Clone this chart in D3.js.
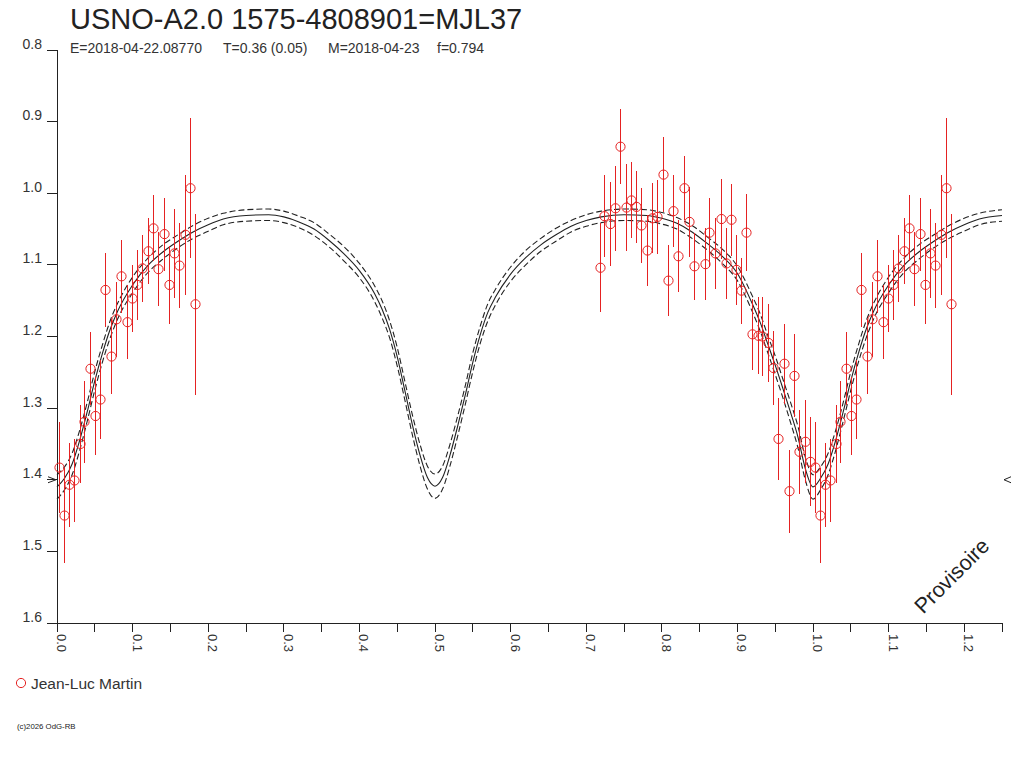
<!DOCTYPE html>
<html lang="fr">
<head>
  <meta charset="UTF-8">
  <script src="https://d3js.org/d3.v7.min.js"></script>
  <style>
    body { margin: 0; background: #fff; font-family: "Liberation Sans", Arial, sans-serif; }
    svg { display: block; }
    .axis-line { stroke: #222; stroke-width: 1; shape-rendering: crispEdges; }
    .tick-label { fill: #333; }
    .model { fill: none; stroke: #222; stroke-width: 1.1; }
    .obs { fill: none; stroke: #e52222; stroke-width: 1; }
    .err { stroke: #e52222; stroke-width: 1; shape-rendering: crispEdges; }
  </style>
</head>
<body>
<div id="chart"></div>
<script>
  // texts
  const title = "USNO-A2.0 1575-4808901=MJL37";
  const subtitle = ["E=2018-04-22.08770", "T=0.36 (0.05)", "M=2018-04-23", "f=0.794"];
  const observer = "Jean-Luc Martin";
  const copyright = "(c)2026 OdG-RB";

  // axes
  const xTicks = [0.0, 0.1, 0.2, 0.3, 0.4, 0.5, 0.6, 0.7, 0.8, 0.9, 1.0, 1.1, 1.2];
  const yTicks = [0.8, 0.9, 1.0, 1.1, 1.2, 1.3, 1.4, 1.5, 1.6];
  const meanLevel = 1.4;

  // observations (phase, magnitude, error)
  const obsPhase = [0.002, 0.009, 0.016, 0.023, 0.030, 0.036, 0.043, 0.050, 0.057, 0.064, 0.071, 0.078, 0.085, 0.092,
    0.099, 0.106, 0.113, 0.120, 0.127, 0.134, 0.141, 0.148, 0.155, 0.162, 0.169, 0.176, 0.183,
    0.718, 0.724, 0.732, 0.738, 0.745, 0.752, 0.759, 0.766, 0.773, 0.780, 0.787, 0.794, 0.801, 0.808, 0.815,
    0.822, 0.829, 0.836, 0.843, 0.857, 0.863, 0.871, 0.878, 0.885, 0.891, 0.898, 0.905, 0.912, 0.919, 0.927,
    0.933, 0.940, 0.947, 0.954, 0.961, 0.968, 0.975, 0.982, 0.989, 0.996];
  const obsMag = [1.383, 1.450, 1.407, 1.401, 1.350, 1.319, 1.245, 1.311, 1.288, 1.135, 1.228, 1.176, 1.116, 1.180,
    1.147, 1.128, 1.105, 1.081, 1.049, 1.106, 1.057, 1.128, 1.084, 1.101, 1.058, 0.993, 1.155,
    1.104, 1.032, 1.043, 1.021, 0.935, 1.020, 1.010, 1.019, 1.045, 1.080, 1.035, 1.033, 0.974, 1.122, 1.025,
    1.088, 0.993, 1.040, 1.102, 1.099, 1.055, 1.084, 1.036, 1.098, 1.037, 1.107, 1.136, 1.055, 1.197, 1.199,
    1.200, 1.209, 1.244, 1.343, 1.238, 1.416, 1.255, 1.361, 1.347, 1.375];
  const obsErr = [0.063, 0.066, 0.059, 0.058, 0.054, 0.057, 0.051, 0.055, 0.055, 0.052, 0.052, 0.052, 0.051, 0.052,
    0.047, 0.049, 0.047, 0.046, 0.046, 0.052, 0.051, 0.054, 0.062, 0.059, 0.084, 0.098, 0.126,
    0.062, 0.057, 0.059, 0.059, 0.052, 0.061, 0.053, 0.050, 0.052, 0.050, 0.049, 0.052, 0.052, 0.050, 0.050,
    0.050, 0.045, 0.049, 0.047, 0.050, 0.048, 0.049, 0.056, 0.050, 0.050, 0.049, 0.046, 0.054, 0.050, 0.054,
    0.055, 0.054, 0.052, 0.057, 0.056, 0.058, 0.058, 0.059, 0.058, 0.062];

  // fitted light curve over one cycle, with its uncertainty band
  const modelPhase = [0.00, 0.01, 0.02, 0.03, 0.04, 0.05, 0.06, 0.07, 0.08, 0.10, 0.12, 0.14, 0.16, 0.18, 0.20, 0.22,
    0.25, 0.28, 0.30, 0.32, 0.34, 0.36, 0.38, 0.40, 0.42, 0.43, 0.44, 0.45, 0.46, 0.47, 0.48, 0.49, 0.50,
    0.51, 0.52, 0.53, 0.54, 0.55, 0.56, 0.57, 0.58, 0.60, 0.62, 0.64, 0.66, 0.68, 0.70, 0.72, 0.75, 0.78,
    0.80, 0.82, 0.84, 0.86, 0.88, 0.90, 0.92, 0.93, 0.94, 0.95, 0.96, 0.97, 0.98, 0.99, 1.00];
  const modelMag = [1.410, 1.398, 1.378, 1.345, 1.305, 1.262, 1.224, 1.191, 1.165, 1.128, 1.101, 1.082, 1.067, 1.054, 1.044, 1.036,
    1.031, 1.030, 1.033, 1.040, 1.050, 1.066, 1.085, 1.108, 1.140, 1.162, 1.190, 1.228, 1.275, 1.323, 1.365, 1.397, 1.409,
    1.397, 1.365, 1.325, 1.282, 1.236, 1.197, 1.166, 1.145, 1.113, 1.090, 1.072, 1.058, 1.046, 1.038, 1.033, 1.030, 1.031,
    1.035, 1.042, 1.054, 1.070, 1.088, 1.112, 1.155, 1.180, 1.210, 1.240, 1.272, 1.305, 1.340, 1.385, 1.410];
  const modelSpread = [0.017, 0.016, 0.015, 0.014, 0.013, 0.013, 0.012, 0.012, 0.011, 0.011, 0.010, 0.010, 0.009, 0.009, 0.009, 0.008,
    0.008, 0.008, 0.008, 0.008, 0.009, 0.009, 0.010, 0.010, 0.011, 0.012, 0.012, 0.013, 0.013, 0.014, 0.015, 0.016, 0.017,
    0.016, 0.015, 0.014, 0.013, 0.013, 0.012, 0.012, 0.011, 0.010, 0.010, 0.009, 0.009, 0.008, 0.008, 0.008, 0.008, 0.008,
    0.008, 0.008, 0.009, 0.009, 0.010, 0.010, 0.011, 0.012, 0.012, 0.013, 0.013, 0.014, 0.015, 0.016, 0.017];

  const width = 1024, height = 768;
  const maxPhase = 1.25;

  const svg = d3.select("#chart").append("svg")
    .attr("width", width)
    .attr("height", height);

  const x = d3.scaleLinear().domain([0, maxPhase]).range([57, 1002]);
  const y = d3.scaleLinear().domain([0.8, 1.6]).range([50, 623]);

  // title block
  svg.append("text")
    .attr("x", 70).attr("y", 29)
    .attr("font-size", 29).attr("fill", "#222")
    .text(title);

  const subX = [70, 223, 328, 437];
  svg.selectAll(".sub").data(subtitle).enter().append("text")
    .attr("class", "sub")
    .attr("x", (d, i) => subX[i]).attr("y", 53)
    .attr("font-size", 14).attr("fill", "#333")
    .text(d => d);

  // axes
  svg.append("line").attr("class", "axis-line")
    .attr("x1", x(0)).attr("x2", x(0)).attr("y1", y(0.8)).attr("y2", y(1.6));
  svg.append("line").attr("class", "axis-line")
    .attr("x1", x(0) - 10).attr("x2", x(maxPhase)).attr("y1", y(1.6)).attr("y2", y(1.6));

  svg.selectAll(".ytick").data(yTicks).enter().append("line")
    .attr("class", "axis-line")
    .attr("x1", x(0) - 10).attr("x2", x(0))
    .attr("y1", d => y(d)).attr("y2", d => y(d));
  svg.selectAll(".ylab").data(yTicks).enter().append("text")
    .attr("class", "tick-label")
    .attr("x", 42).attr("y", d => y(d) - 1.5)
    .attr("text-anchor", "end").attr("font-size", 14)
    .text(d => d.toFixed(1));

  const minorTicks = d3.range(0, 26).map(i => i * 0.05);
  svg.selectAll(".xtick").data(minorTicks).enter().append("line")
    .attr("class", "axis-line")
    .attr("x1", d => x(d)).attr("x2", d => x(d))
    .attr("y1", y(1.6)).attr("y2", y(1.6) + 9);
  svg.selectAll(".xlab").data(xTicks).enter().append("text")
    .attr("class", "tick-label")
    .attr("transform", d => `translate(${x(d)},634) rotate(90)`)
    .attr("font-size", 13)
    .text(d => d.toFixed(1));

  // mean level markers
  const ym = y(meanLevel);
  svg.append("path").attr("fill", "none").attr("stroke", "#222")
    .attr("d", `M${x(0) - 9},${ym - 3}L${x(0) - 1},${ym}L${x(0) - 9},${ym + 3}`);
  svg.append("path").attr("fill", "none").attr("stroke", "#222")
    .attr("d", `M${x(maxPhase) + 9},${ym - 3}L${x(maxPhase) + 2},${ym}L${x(maxPhase) + 9},${ym + 3}`);

  // model curves, repeated over 1.25 cycles
  const model = [];
  [0, 1].forEach(c => modelPhase.forEach((p, i) => {
    if (p + c <= maxPhase && !(c === 1 && p === 0))
      model.push({ p: p + c, m: modelMag[i], s: modelSpread[i] });
  }));

  const line = d3.line().x(d => x(d.p)).curve(d3.curveMonotoneX);
  svg.append("path").attr("class", "model")
    .attr("d", line.y(d => y(d.m))(model));
  svg.append("path").attr("class", "model").attr("stroke-dasharray", "6,3")
    .attr("d", line.y(d => y(d.m - d.s))(model));
  svg.append("path").attr("class", "model").attr("stroke-dasharray", "6,3")
    .attr("d", line.y(d => y(d.m + d.s))(model));

  // observations, phase-folded
  const obs = [];
  obsPhase.forEach((p, i) => {
    [0, 1].forEach(c => {
      if (p + c <= maxPhase) obs.push({ p: p + c, m: obsMag[i], e: obsErr[i] });
    });
  });

  svg.selectAll(".err").data(obs).enter().append("line")
    .attr("class", "err")
    .attr("x1", d => Math.round(x(d.p)) + 0.5).attr("x2", d => Math.round(x(d.p)) + 0.5)
    .attr("y1", d => y(d.m - d.e)).attr("y2", d => y(d.m + d.e));
  svg.selectAll(".obs").data(obs).enter().append("circle")
    .attr("class", "obs")
    .attr("cx", d => Math.round(x(d.p)) + 0.5).attr("cy", d => y(d.m))
    .attr("r", 4.6);

  // watermark
  svg.append("text")
    .attr("transform", "translate(957,581) rotate(-45)")
    .attr("text-anchor", "middle")
    .attr("font-size", 21.5).attr("fill", "#222")
    .text("Provisoire");

  // legend
  svg.append("circle").attr("class", "obs").attr("cx", 21).attr("cy", 683).attr("r", 4.6);
  svg.append("text")
    .attr("x", 31).attr("y", 688.5)
    .attr("font-size", 15.5).attr("fill", "#333")
    .text(observer);

  svg.append("text")
    .attr("x", 17).attr("y", 728.5)
    .attr("font-size", 7.8).attr("fill", "#222")
    .text(copyright);
</script>
</body>
</html>
